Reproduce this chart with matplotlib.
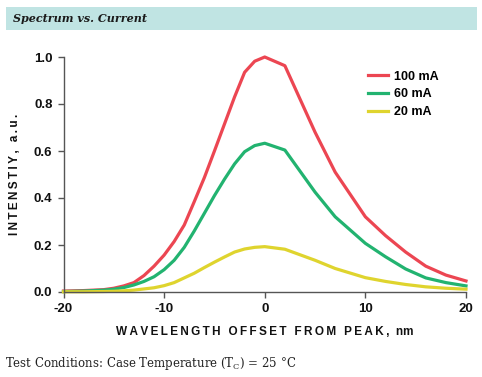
import matplotlib
matplotlib.use("Agg")
import matplotlib.pyplot as plt
from matplotlib.patches import Rectangle

# wavelength offset from peak, nm
offset = [-20, -18, -16, -15, -14, -13, -12, -11, -10, -9, -8, -7, -6, -5, -4, -3, -2, -1, 0,
          2, 5, 7, 10, 12, 14, 16, 18, 20]

# relative intensity, a.u.
i_100ma = [0.004, 0.006, 0.01, 0.016, 0.026, 0.04, 0.07, 0.11, 0.157, 0.215, 0.285, 0.385,
           0.487, 0.60, 0.715, 0.83, 0.935, 0.982, 1.0,
           0.963, 0.68, 0.51, 0.32, 0.24, 0.17, 0.11, 0.072, 0.047]
i_60ma = [0.002, 0.004, 0.008, 0.012, 0.019, 0.03, 0.045, 0.065, 0.095, 0.135, 0.19, 0.26,
          0.335, 0.41, 0.48, 0.545, 0.597, 0.623, 0.633,
          0.604, 0.425, 0.32, 0.207, 0.15, 0.098, 0.06, 0.04, 0.026]
i_20ma = [0.001, 0.001, 0.002, 0.003, 0.005, 0.008, 0.013, 0.018, 0.027, 0.04, 0.06, 0.08,
          0.104, 0.127, 0.149, 0.17, 0.183, 0.19, 0.193,
          0.182, 0.135, 0.1, 0.061, 0.045, 0.032, 0.022, 0.016, 0.012]

labels = ["100 mA", "60 mA", "20 mA"]
colors = ["#ec4652", "#22b370", "#dfd42e"]

x_ticks = [-20, -10, 0, 10, 20]
y_ticks = [0.0, 0.2, 0.4, 0.6, 0.8, 1.0]

sans = ["Liberation Sans", "DejaVu Sans"]
serif = ["DejaVu Serif"]
spine_col = "#555555"


def spaced(s):
    return "\u2009".join(s)


fig = plt.figure(figsize=(4.82, 3.77), dpi=100)

# title band
fig.patches.append(Rectangle((6 / 482, 1 - 30 / 377), 471 / 482, 23 / 377,
                             transform=fig.transFigure, facecolor="#c0e4e3",
                             edgecolor="none", zorder=0))
fig.text(13 / 482, 1 - 18.5 / 377, "Spectrum vs. Current", family=serif,
         fontsize=8, fontweight="bold", style="italic", color="#1a1a1a",
         va="center", ha="left")

ax = fig.add_axes([63.5 / 482, 1 - 292 / 377, (466 - 63.5) / 482, (292 - 57) / 377])

for y, lab, c in zip([i_100ma, i_60ma, i_20ma], labels, colors):
    ax.plot(offset, y, color=c, lw=2.3, label=lab, clip_on=False)

ax.set_xlim(-20, 20)
ax.set_ylim(0, 1.0)
ax.set_xticks(x_ticks)
ax.set_yticks(y_ticks)
ax.set_xticklabels([str(t) for t in x_ticks])
ax.set_yticklabels(["%.1f" % t for t in y_ticks])

for s in ["top", "right"]:
    ax.spines[s].set_visible(False)
for s in ["left", "bottom"]:
    ax.spines[s].set_color(spine_col)
    ax.spines[s].set_linewidth(1.0)

ax.tick_params(direction="out", length=4, width=1, color=spine_col, pad=4)
for t in ax.get_xticklabels() + ax.get_yticklabels():
    t.set_family(sans)
    t.set_fontweight("bold")
    t.set_fontsize(9.5)
    t.set_color("#111111")

ax.set_xlabel(spaced("WAVELENGTH OFFSET FROM PEAK,") + "  nm", family=sans,
              fontweight="bold", fontsize=8.5, color="#111111", labelpad=8)
ax.set_ylabel(spaced("INTENSTIY, a.u."), family=sans, fontweight="bold",
              fontsize=8.5, color="#111111", labelpad=9)

leg = ax.legend(loc="upper left", bbox_to_anchor=(0.7565, 0.942), frameon=False,
                borderpad=0, borderaxespad=0,
                handlelength=1.6, handletextpad=0.45, labelspacing=0.45,
                prop={"family": sans, "weight": "bold", "size": 9})

fig.text(5 / 482, 1 - 363 / 377,
         r"Test Conditions: Case Temperature (T$_\mathregular{C}$) = 25 °C",
         family=serif, fontsize=8.5, color="#222222", va="center", ha="left")

fig.savefig("out.png", dpi=100)
